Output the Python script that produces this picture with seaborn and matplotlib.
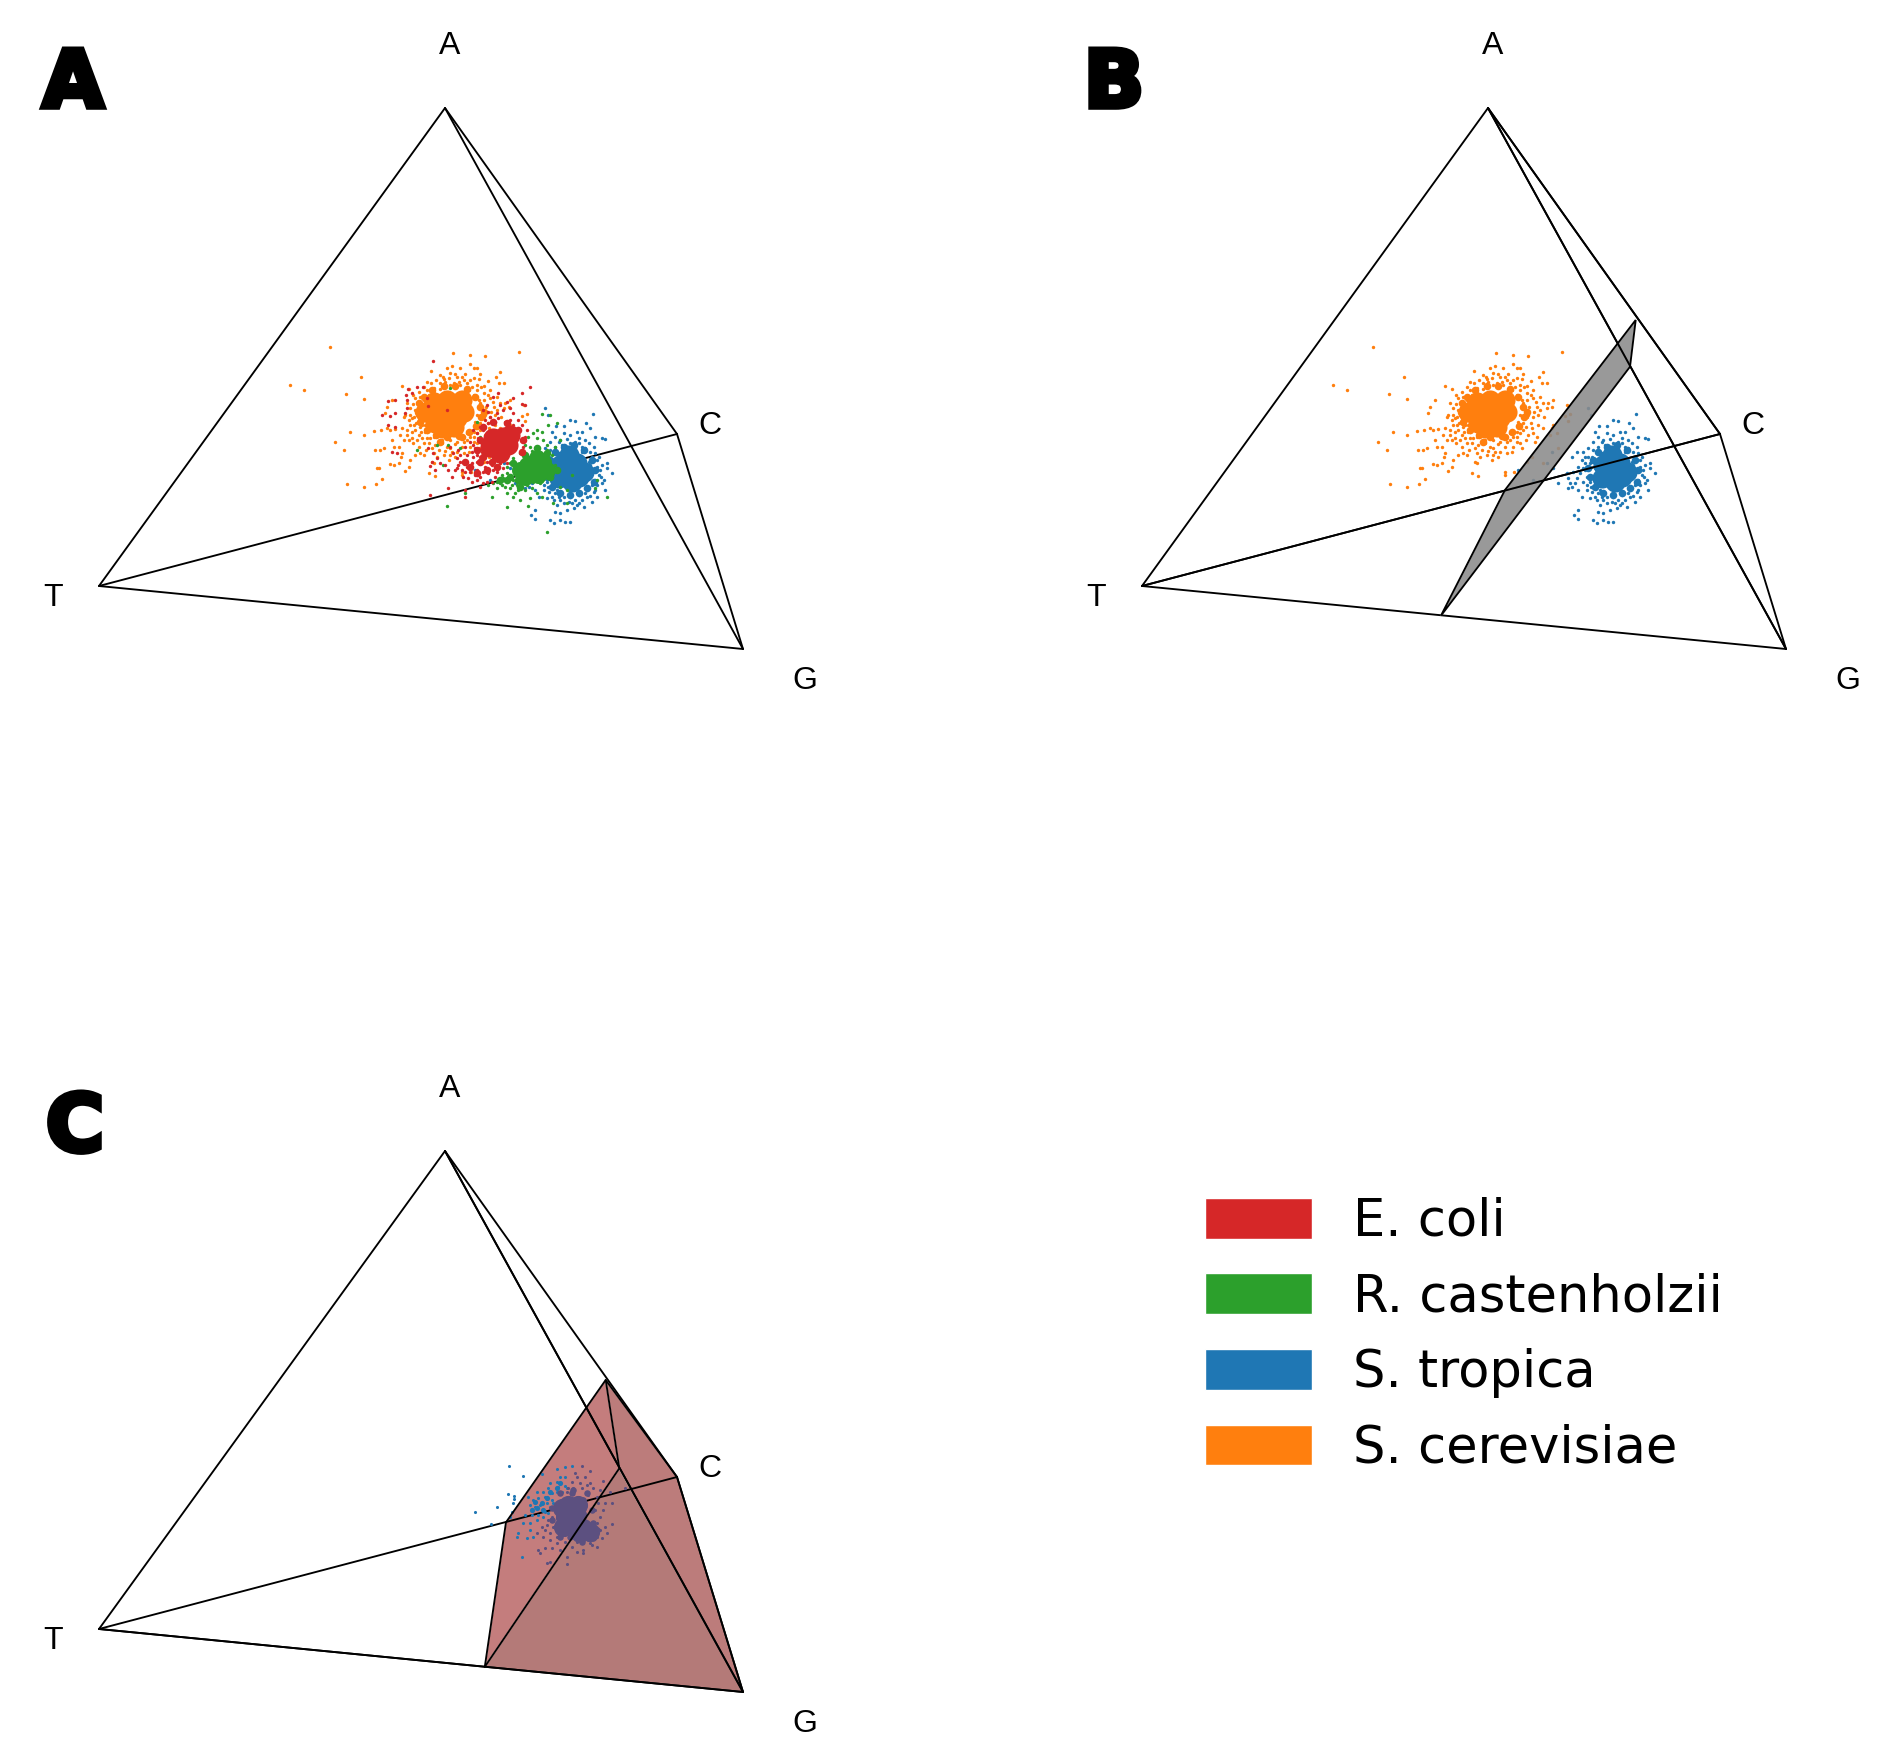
import pandas as pd
import seaborn as sns
import matplotlib.pyplot as plt
import matplotlib.patheffects as pe
from matplotlib.patches import Patch

sns.set_style('white')
plt.rcParams['font.family'] = ['DejaVu Sans']
plt.rcParams['text.color'] = 'black'

# Data. Tetrahedron corners in panel units

corner_labels = ['A', 'T', 'C', 'G']
corner_x = [445, 99, 677, 743]
corner_y = [108, 586, 434, 649]
label_x = [450, 53, 710, 805]
label_y = [46, 598, 426, 681]

species = ['E. coli', 'R. castenholzii', 'S. tropica', 'S. cerevisiae']
palette = {'E. coli': '#d62728', 'R. castenholzii': '#2ca02c', 'S. tropica': '#1f77b4', 'S. cerevisiae': '#ff7f0e'}

# cross sections
plane_b_x = [398, 462, 592.7, 587]
plane_b_y = [615.6, 490, 320, 366.7]
plane_c_x = [605.7, 677, 743, 484.8, 506]
plane_c_y = [337, 434, 649, 623.8, 479.3]
plane_c_front_x = [619.3, 743, 484.8]
plane_c_front_y = [425.3, 649, 623.8]
plane_c_right_x = [605.7, 677, 743, 619.3]
plane_c_right_y = [337, 434, 649, 425.3]

# Orange and blue read at crop origin (277, 300), red and green at (280, 330), panel C at (450, 317), scale 3
orange_dots = [(160,142),(40,254),(82,270),(252,231),(207,281),(260,297),(175,426),(200,451),(218,395),(262,405),
    (209,552),(260,561),(298,552),(315,536),(300,505),(307,505),(290,394),(312,390),(330,385),(340,390),(353,388),
    (345,300),(330,322),(323,338),(375,257),(397,268),(408,285),(390,310),(385,345),(400,325),(415,295),(428,290),
    (450,245),(462,214),(490,225),(510,205),(525,198),(550,205),(527,158),(580,165),(625,168),(727,157),(580,192),
    (592,205),(600,205),(610,222),(590,235),(605,238),(632,243),(658,230),(670,217),(665,248),(682,250),(640,270),
    (660,290),(668,310),(684,310),(700,300),(680,325),(695,322),(650,320),(642,335),(655,345),(625,345),(610,310),
    (620,280),(600,270),(740,315),(750,343),(735,348),(745,362),(700,375),(695,385),(690,405),(710,398),(715,445),
    (670,490),(650,410),(645,425),(625,405),(610,390),(635,385),(600,400),(590,425),(570,420),(555,440),(540,455),
    (560,458),(535,470),(515,480),(500,465),(480,470),(465,485),(470,490),(455,520),(475,527),(555,515),(555,525),
    (582,517),(620,487),(635,470),(430,460),(440,465),(415,465),(400,480),(395,500),(385,513),(365,490),(350,495),
    (338,492),(372,470),(375,460),(365,440),(350,440),(320,445),(310,450),(295,450),(345,420),(370,405),(390,405),
    (405,415),(420,420),(400,375),(380,350),(410,375),(430,380),(445,395),(455,430),(475,435),(495,430),(520,445),
    (420,345),(430,330),(445,310),(470,265),(490,250),(515,235),(540,230),(570,250),(600,255),(620,300),(640,350),
    (440,300),(455,285),(470,280),(490,268),(520,255),(550,255),(575,270),(590,285),(605,300),(610,325),(620,350),
    (610,370),(590,395),(570,400),(545,415),(520,420),(495,420),(470,410),(450,395),(435,375),(425,355),(415,330),
    (432,310),(445,345),(505,245),(530,250),(560,240),(585,262),(612,262),(628,322),(632,368),(618,382),(600,385),
    (580,412),(560,425),(535,432),(510,440),(485,450),(465,445),(440,430),(425,405),(415,390),(405,355),(398,345),
    (450,270),(478,240),(545,245),(565,222),(520,218),(500,238),(640,295),(655,375),(668,385),(580,440),(600,430),
    (540,425),(485,400),(460,415),(435,415),(418,368),(390,390),(455,365),(445,375),(600,345),(608,350),(595,365),
    (498,232),(535,222),(555,232),(578,240),(620,258),(632,285),(648,305),(660,330),(672,350),(640,400),(618,420),
    (605,445),(575,455),(525,455),(505,452),(470,458),(448,450),(425,440),(408,430),(395,420),(380,420),(412,350),
    (408,312),(425,275),(440,262),(462,250),(395,360),(375,385),(432,395),(405,395),(450,415),(520,465),(590,410)]
orange_mid = [(440,290),(465,270),(500,258),(535,258),(570,268),(595,290),(610,320),(612,350),(598,378),(575,395),
    (545,408),(510,412),(478,405),(450,390),(430,365),(422,335),(425,310),(455,300),(555,410),(490,425),(620,335)]
orange_core = [(515,335),(490,320),(540,320),(485,350),(540,355),(510,365),(510,300),(465,335),(560,335),(475,370),
    (470,305),(555,300),(530,380),(495,385),(445,335)]

blue_dots = [(948,341),(880,360),(893,362),(928,368),(838,377),(862,378),(940,383),(900,395),(915,395),(825,395),
    (860,400),(880,405),(955,410),(985,417),(975,415),(835,410),(820,425),(850,420),(870,418),(905,415),(925,420),
    (805,325),(812,345),(770,455),(755,470),(790,455),(805,445),(820,450),(740,520),(745,535),(750,550),(755,560),
    (745,565),(775,500),(760,515),(785,480),(795,470),(780,520),(790,545),(775,570),(800,570),(785,590),(810,595),
    (830,600),(775,630),(762,645),(775,658),(820,660),(830,668),(850,660),(865,665),(880,665),(835,635),(850,640),
    (870,630),(890,625),(900,615),(920,620),(945,605),(960,590),(985,570),(975,550),(1005,520),(990,505),(990,490),
    (975,495),(960,480),(965,470),(950,440),(955,460),(935,430),(980,540),(950,575),(915,600),(930,590),(860,610),
    (840,615),(815,575),(800,530),(795,510),(810,490),(815,470),(835,440),(855,435),(880,430),(905,430),(925,445),
    (945,470),(950,510),(955,540),(930,570),(905,585),(880,590),(860,590),(835,580),(820,560),(810,545),(695,455),
    (700,505),(715,550),(640,540),(595,510),(680,490),(800,555),(820,530),(825,505),(830,480),(845,460),(865,445),
    (895,445),(915,455),(935,485),(960,500),(965,525),(945,555),(925,580),(895,600),(875,605),(850,600),(825,590),
    (790,505),(770,535),(765,550),(940,495),(938,530),(830,545),(840,570),(955,570),(845,425),(895,425),(915,440),
    (940,455),(970,510),(972,530),(960,555),(938,588),(905,610),(885,610),(845,590),(812,560),(795,490),(805,470)]
blue_mid = [(820,480),(835,455),(860,440),(890,435),(920,450),(945,480),(955,510),(950,545),(930,565),(905,580),
    (880,585),(850,580),(825,560),(810,530),(805,505)]
blue_core = [(880,510),(865,480),(900,490),(860,520),(905,530),(885,545),(850,495),(920,515),(875,465),(845,535)]

red_dots = [(460,92),(750,170),(727,190),(700,205),(725,222),(735,225),(345,210),(325,213),(378,195),(380,210),
    (385,178),(410,170),(428,172),(395,190),(440,205),(380,235),(375,250),(345,250),(330,258),(305,255),(325,285),
    (345,292),(335,365),(350,370),(445,355),(460,370),(470,385),(455,395),(450,408),(465,420),(480,400),(495,405),
    (505,420),(515,440),(525,420),(535,405),(550,395),(560,410),(575,400),(590,420),(600,440),(610,460),(590,450),
    (565,445),(550,440),(545,420),(530,385),(520,370),(510,350),(535,360),(555,350),(570,335),(585,355),(600,380),
    (620,395),(640,420),(625,430),(645,440),(600,400),(580,380),(560,375),(590,310),(600,290),(615,270),(630,260),
    (650,250),(670,240),(660,225),(640,200),(655,190),(680,215),(700,250),(715,270),(725,285),(690,270),(735,320),
    (730,350),(740,300),(505,475),(555,480),(555,500),(450,495),(600,470),(595,325),(580,300),(610,240),(620,225),
    (500,240),(445,228),(610,345),(570,425),(585,435),(610,425),(615,410),(635,405),(650,425),(660,400),(605,365),
    (590,375),(575,365),(625,280),(645,275),(675,275),(700,285),(655,265),(610,300),(600,335),(540,395),(530,415),
    (575,455),(620,455),(635,455),(670,415),(680,400),(590,395),(555,425),(540,375),(580,345),(625,245),(690,235)]
red_mid = [(610,290),(640,275),(680,280),(715,300),(730,330),(725,365),(600,330),(590,360),(600,395),(570,410),
    (590,430),(620,420),(650,410),(610,380),(635,395),(555,395)]
red_core = [(640,325),(670,320),(650,350),(685,345),(660,370),(690,315),(630,350)]

green_dots = [(785,252),(810,256),(830,280),(805,285),(770,300),(760,310),(785,305),(745,320),(770,325),(790,330),
    (800,345),(735,345),(750,350),(720,370),(700,385),(680,430),(665,435),(680,455),(700,450),(720,455),(740,465),
    (760,455),(780,460),(800,445),(660,460),(650,455),(625,465),(635,500),(680,530),(700,500),(720,510),(745,528),
    (680,490),(690,475),(715,480),(735,480),(755,475),(770,490),(785,500),(800,605),(982,500),(945,475),(500,528),
    (470,345),(510,175),(490,405),(555,490),(820,520),(860,520),(875,435),(950,450),(590,275),(600,320),(655,370),
    (640,345),(540,355),(505,345),(410,360),(840,470),(690,400),(680,410),(670,445),(695,465),(710,465),(730,455),
    (750,445),(775,445),(815,440),(825,405),(815,375),(800,360),(775,350),(755,362),(735,385),(825,350),(840,330),
    (665,465),(650,475),(675,470),(640,460),(705,490),(750,505),(860,480)]
green_mid = [(690,440),(715,450),(745,445),(780,450),(810,440),(830,420),(700,400),(735,375),(770,355),(800,370),
    (680,450),(660,450),(720,470)]
green_core = [(720,420),(760,415),(800,420),(770,385),(790,395),(740,405),(735,440),(775,435)]

c_blue_dots = [(178,318),(218,349),(175,403),(193,408),(192,418),(190,430),(140,442),(75,456),(187,455),(180,470),
    (123,493),(275,342),(320,326),(345,322),(365,318),(330,350),(345,350),(320,365),(300,370),(295,385),(325,380),
    (345,378),(280,395),(260,395),(235,410),(240,435),(250,420),(265,415),(285,410),(305,400),(320,395),(255,440),
    (270,435),(290,430),(300,440),(285,455),(265,465),(245,465),(225,465),(260,480),(240,490),(220,490),(240,510),
    (205,520),(200,530),(230,535),(250,530),(217,590),(280,470),(295,460),(305,420),(310,430),(335,395),(350,385)]
c_blue_mid = [(275,430),(290,415),(260,445),(300,395),(320,385),(280,450),(255,425),(330,370),(245,450)]
c_purple_dots = [(395,317),(420,332),(375,340),(380,350),(405,352),(458,362),(365,365),(390,370),(410,375),(430,385),
    (450,390),(480,395),(525,385),(465,430),(485,430),(445,430),(460,450),(450,470),(485,492),(465,500),(470,520),
    (450,510),(440,530),(455,535),(420,550),(440,560),(400,570),(380,575),(400,580),(350,590),(350,612),(300,605),
    (290,610),(265,570),(285,565),(270,580),(305,565),(330,570),(365,560),(345,545),(320,550),(300,540),(280,530),
    (260,520),(285,510),(300,520),(320,530),(345,525),(290,495),(310,500),(275,500),(295,480),(420,370),(395,385),
    (370,385),(350,395),(415,405),(440,410),(435,450),(440,490),(415,540),(380,545),(400,545),(305,470),(320,510),
    (425,555),(355,385)]
c_purple_mid = [(330,400),(365,400),(400,420),(425,450),(430,490),(440,510),(430,535),(395,545),(360,530),(330,510),
    (305,480),(305,445),(330,530),(370,390),(410,400)]
c_purple_core = [(355,435),(345,470),(380,465),(365,495),(400,505),(420,515),(390,520),(335,445),(385,435),(340,500)]

def read_cloud(points, x0, y0):
    df = pd.DataFrame(points, columns = ['x', 'y'])
    df['x'] = x0 + df['x']/3
    df['y'] = y0 + df['y']/3
    return df

def panel_axes(x, y, w = 838, h = 712):
    ax = plt.gcf().add_axes([x/1881, 1 - (y + h)/1755, w/1881, h/1755])
    ax.set_xlim(0, w)
    ax.set_ylim(h, 0)
    ax.axis('off')
    return ax

def draw_edges(ax, pairs, zorder = 2):
    for a, b in pairs:
        ax.plot([corner_x[a], corner_x[b]], [corner_y[a], corner_y[b]], color = 'black', lw = 1.35, zorder = zorder)

def draw_labels(ax, letter, letter_x, letter_y):
    for i in range(4):
        ax.text(label_x[i], label_y[i], corner_labels[i], family = 'Liberation Sans', fontsize = 23, ha = 'center', va = 'center')
    ax.text(letter_x, letter_y, letter, fontsize = 57, fontweight = 'bold', ha = 'center', va = 'baseline',
            path_effects = [pe.withStroke(linewidth = 4, foreground = 'black', joinstyle = 'miter')])

def draw_cloud(ax, dots, mid, core, origin, color, size = 6, mid_size = 30, core_size = 210):
    layers = [(core, core_size), (mid, mid_size), (dots, size)]
    for points, s in layers:
        if len(points) == 0:
            continue
        sns.scatterplot(ax = ax, data = read_cloud(points, *origin), x = 'x', y = 'y', color = color, s = s,
                        linewidth = 0, zorder = 3, legend = False)
    ax.set_xlabel('')
    ax.set_ylabel('')

all_edges = [(0, 1), (0, 2), (0, 3), (1, 2), (1, 3), (2, 3)]
crop_b = (277, 300)
crop_a = (280, 330)
crop_c = (450, 317)

fig = plt.figure(figsize = (18.81, 17.55), dpi = 100)

# Panel A
ax = panel_axes(0, 0)
draw_edges(ax, all_edges)
draw_cloud(ax, orange_dots, orange_mid, orange_core, crop_b, palette['S. cerevisiae'])
draw_cloud(ax, blue_dots, blue_mid, blue_core, crop_b, palette['S. tropica'])
draw_cloud(ax, green_dots, green_mid, green_core, crop_a, palette['R. castenholzii'], core_size = 150)
draw_cloud(ax, red_dots, red_mid, red_core, crop_a, palette['E. coli'])
draw_labels(ax, 'A', 73, 107)

# Panel B
ax = panel_axes(1043, 0)
draw_edges(ax, all_edges)
draw_cloud(ax, orange_dots, orange_mid, orange_core, crop_b, palette['S. cerevisiae'])
draw_cloud(ax, blue_dots, blue_mid, blue_core, crop_b, palette['S. tropica'])
ax.fill(plane_b_x, plane_b_y, facecolor = '#8b8b8b', alpha = 0.88, zorder = 4)
ax.fill(plane_b_x, plane_b_y, facecolor = 'none', edgecolor = 'black', lw = 1.35, zorder = 5)
draw_edges(ax, [(0, 2), (0, 3), (1, 2)], zorder = 5)
draw_labels(ax, 'B', 71, 107)

# Panel C
ax = panel_axes(0, 1043)
ax.fill(plane_c_x, plane_c_y, facecolor = '#c47d7d', zorder = 1)
ax.fill(plane_c_right_x, plane_c_right_y, facecolor = '#bc7c7b', zorder = 1)
ax.fill(plane_c_front_x, plane_c_front_y, facecolor = '#b47a78', zorder = 1)
draw_edges(ax, all_edges)
draw_cloud(ax, c_blue_dots, c_blue_mid, [], crop_c, palette['S. tropica'], size = 5, mid_size = 14)
draw_cloud(ax, c_purple_dots, c_purple_mid, c_purple_core, crop_c, '#5c5080', size = 5, mid_size = 22, core_size = 190)
ax.plot([plane_c_x[0], plane_c_right_x[3], plane_c_x[3]], [plane_c_y[0], plane_c_right_y[3], plane_c_y[3]],
        color = 'black', lw = 1.35, zorder = 5)
ax.plot(plane_c_x[3:] + plane_c_x[:2], plane_c_y[3:] + plane_c_y[:2], color = 'black', lw = 1.35, zorder = 5)
draw_edges(ax, [(0, 3), (2, 3), (1, 3)], zorder = 5)
draw_labels(ax, 'C', 75, 1151 - 1043)

# Legend
handles = [Patch(facecolor = palette[s], label = s) for s in species]
fig.legend(handles = handles, loc = 'upper left', bbox_to_anchor = (1205/1881, 1 - 1197/1755), frameon = False,
           fontsize = 36.8, handlelength = 2.09, handleheight = 0.85, handletextpad = 0.80, labelspacing = 0.50,
           borderpad = 0, borderaxespad = 0)

plt.savefig('out.png', dpi = 100)
